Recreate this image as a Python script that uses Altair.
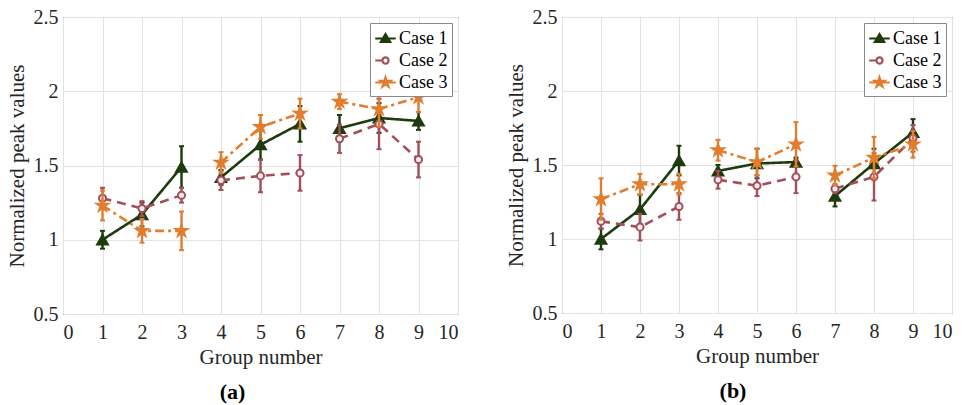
import math
import altair as alt
import pandas as pd

# ---- data -------------------------------------------------------------
groups = [1, 2, 3, 4, 5, 6, 7, 8, 9]
cases = ["Case 1", "Case 2", "Case 3"]

# panel (a)
a_case1 = [1.00, 1.17, 1.49, 1.42, 1.64, 1.78, 1.75, 1.82, 1.80]
a_case1_err = [0.06, 0.08, 0.14, 0.05, 0.10, 0.12, 0.09, 0.10, 0.06]
a_case2 = [1.28, 1.21, 1.30, 1.40, 1.43, 1.45, 1.68, 1.78, 1.54]
a_case2_err = [0.07, 0.05, 0.05, 0.065, 0.11, 0.12, 0.095, 0.17, 0.12]
a_case3 = [1.23, 1.06, 1.06, 1.52, 1.76, 1.85, 1.93, 1.88, 1.96]
a_case3_err = [0.10, 0.08, 0.13, 0.07, 0.08, 0.10, 0.05, 0.12, 0.10]

# panel (b)
b_case1 = [1.00, 1.20, 1.53, 1.46, 1.51, 1.52, 1.29, 1.51, 1.72]
b_case1_err = [0.07, 0.10, 0.10, 0.04, 0.10, 0.03, 0.07, 0.10, 0.09]
b_case2 = [1.12, 1.08, 1.22, 1.40, 1.36, 1.42, 1.34, 1.42, 1.68]
b_case2_err = [0.05, 0.09, 0.09, 0.06, 0.07, 0.11, 0.03, 0.16, 0.09]
b_case3 = [1.27, 1.37, 1.37, 1.60, 1.52, 1.64, 1.43, 1.55, 1.64]
b_case3_err = [0.14, 0.07, 0.07, 0.07, 0.09, 0.15, 0.065, 0.14, 0.09]

x_ticks = list(range(0, 11))
y_ticks = [0.5, 1.0, 1.5, 2.0, 2.5]

# ---- styling ----------------------------------------------------------
C1, C2, C3 = "#1e3b0d", "#a24f5a", "#e27d2e"
colors = {"Case 1": C1, "Case 2": C2, "Case 3": C3}
dashes = {"Case 1": [1, 0], "Case 2": [9, 6], "Case 3": [9, 4, 3, 4]}
FONT = "Liberation Serif"
TEXT = "#262626"


def star_path(r_out=1.0, r_in=0.38, cx=0.0):
    pts = []
    for k in range(10):
        r = r_out if k % 2 == 0 else r_in
        ang = math.radians(-90 + 36 * k)
        pts.append(f"{cx + r * math.cos(ang):.3f},{r * math.sin(ang):.3f}")
    return "M" + "L".join(pts) + "Z"


STAR = star_path()
# legend glyphs: short line with the series marker on it
LEG_TRI = "M-1,0H1M0,-0.42L0.45,0.32L-0.45,0.32Z"
LEG_CIRC = ("M-1,0H-0.3M0.3,0A0.3,0.3 0 1,0 -0.3,0"
            "A0.3,0.3 0 1,0 0.3,0Z")
LEG_STAR = "M-1,0H1" + star_path(0.5, 0.19)

markers = {
    "Case 1": dict(shape="triangle-up", size=115, fill=C1),
    "Case 2": dict(shape="circle", size=50, fill="#fbeef0"),
    "Case 3": dict(shape=STAR, size=150, fill=C3),
}


def build_frame(series, errs):
    rows = []
    for case, vals, es in zip(cases, series, errs):
        for g, v, e in zip(groups, vals, es):
            rows.append(dict(group=g, case=case, value=v, err=e,
                             lo=v - e, hi=v + e, seg=(g - 1) // 3))
    return pd.DataFrame(rows)


x_enc = alt.X("group:Q", title="Group number",
              scale=alt.Scale(domain=[0, 10], nice=False),
              axis=alt.Axis(values=x_ticks, labelPadding=8, titlePadding=4))
y_enc = alt.Y("value:Q", title="Normalized peak values",
              scale=alt.Scale(domain=[0.5, 2.5], nice=False, zero=False),
              axis=alt.Axis(values=y_ticks, format="~g", labelPadding=5,
                            titlePadding=6))


def panel(df, label, width, height, shift):
    base = alt.Chart(df)
    layers = []
    for case in cases:
        sub = base.transform_filter(alt.datum.case == case)
        col = colors[case]
        err = sub.mark_rule(color=col, strokeWidth=2.4).encode(
            x=x_enc, y=alt.Y("lo:Q"), y2="hi:Q")
        cap_lo = sub.mark_tick(color=col, size=5, thickness=2,
                               orient="horizontal", opacity=1).encode(
            x=x_enc, y=alt.Y("lo:Q"))
        cap_hi = sub.mark_tick(color=col, size=5, thickness=2,
                               orient="horizontal", opacity=1).encode(
            x=x_enc, y=alt.Y("hi:Q"))
        line = sub.mark_line(color=col, strokeWidth=2.6,
                             strokeDash=dashes[case]).encode(
            x=x_enc, y=y_enc, detail="seg:N")
        m = markers[case]
        pts = sub.mark_point(shape=m["shape"], size=m["size"], filled=True,
                             fill=m["fill"], stroke=col, strokeWidth=2,
                             opacity=1).encode(x=x_enc, y=y_enc)
        layers += [err, cap_lo, cap_hi, line, pts]

    leg = alt.Legend(title=None, orient="top-right", offset=6)
    legend_layer = base.transform_filter("false").mark_point(
        filled=True, strokeWidth=2.2, opacity=1).encode(
        x=x_enc, y=y_enc,
        fill=alt.Fill("case:N", scale=alt.Scale(domain=cases,
                                                range=[C1, "white", C3]),
                      legend=leg),
        stroke=alt.Stroke("case:N", scale=alt.Scale(domain=cases,
                                                    range=[C1, C2, C3]),
                          legend=leg),
        shape=alt.Shape("case:N", scale=alt.Scale(
            domain=cases, range=[LEG_TRI, LEG_CIRC, LEG_STAR]), legend=leg),
    )
    layers.append(legend_layer)
    return alt.layer(*layers).properties(
        width=width, height=height,
        title=alt.TitleParams(label, orient="bottom", anchor="middle",
                              frame="group", font=FONT, fontSize=22,
                              fontWeight="bold", color="black", offset=15,
                              dx=shift),
    )


df_a = build_frame([a_case1, a_case2, a_case3],
                   [a_case1_err, a_case2_err, a_case3_err])
df_b = build_frame([b_case1, b_case2, b_case3],
                   [b_case1_err, b_case2_err, b_case3_err])

chart = alt.hconcat(
    panel(df_a, "(a)", 395, 297, -28),
    panel(df_b, "(b)", 390, 296, -24),
    spacing=45,
).resolve_scale(
    fill="independent", stroke="independent", shape="independent"
).resolve_legend(
    fill="independent", stroke="independent", shape="independent"
).properties(
    padding={"left": 5, "top": 6, "right": 0, "bottom": 0},
    background="white",
).configure_view(
    stroke=TEXT, strokeWidth=1,
).configure_axis(
    domain=False, ticks=False, grid=True, gridColor="#e2e2e2",
    gridWidth=1, labelFont=FONT, labelFontSize=20, labelColor=TEXT,
    titleFont=FONT, titleFontSize=21, titleFontWeight="normal",
    titleColor=TEXT,
).configure_legend(
    padding=4, strokeColor="#8a8a8a", fillColor="white", cornerRadius=0,
    labelFont=FONT, labelFontSize=18, labelColor="black", symbolSize=420,
    rowPadding=1, labelOffset=2, symbolStrokeWidth=2.2,
)

chart.save("out.html", embed_options={"renderer": "svg", "actions": False})
